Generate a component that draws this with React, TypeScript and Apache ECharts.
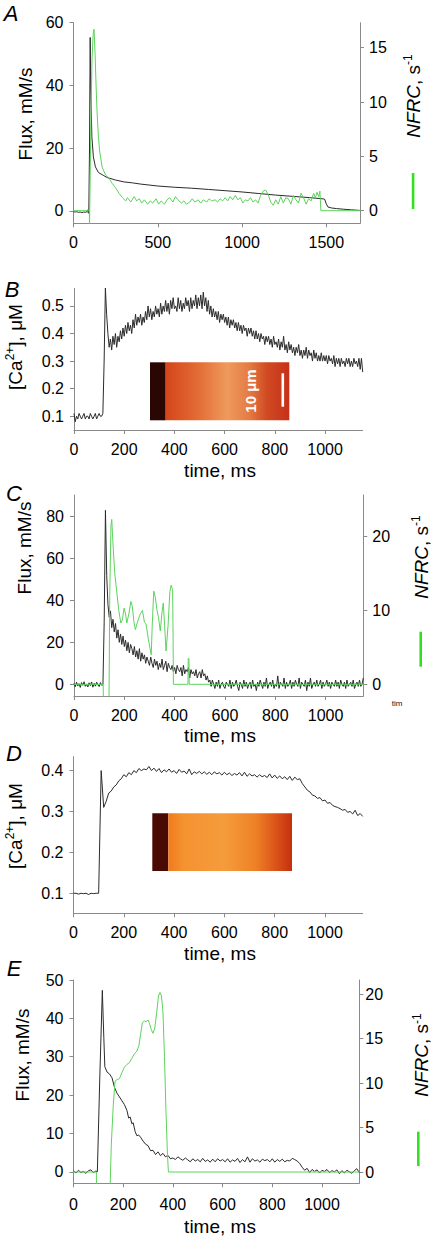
import { useEffect, useRef } from "react";
import * as echarts from "echarts";

// ---------- Panel A (0-1700 ms) ----------
const aTimeTicks = [0, 500, 1000, 1500];
const aFluxTicks = [0, 20, 40, 60];
const aNfrcTicks = [0, 5, 10, 15];
const aFlux: number[][] = [
  [0, -0.3], [10, -0.4], [20, -0.3], [30, -0.5], [40, -0.4], [50, -0.6], [60, -0.4], [70, -0.5], [80, -0.3],
  [85, 0.3], [88, -0.8], [91, 0.5], [95, 20], [99, 55.3], [103, 38], [109, 23.6], [118, 17.2], [130, 14],
  [148, 12.2], [180, 11.2], [200, 10.6], [250, 9.8], [300, 9.2], [350, 8.9], [400, 8.5], [500, 7.9],
  [600, 7.5], [700, 7.2], [800, 6.8], [900, 6.4], [1000, 6.0], [1100, 5.5], [1200, 5.0], [1300, 4.6],
  [1400, 4.2], [1480, 3.8], [1490, 3.7], [1500, 2.2], [1510, 1.2], [1530, 0.9], [1560, 0.7], [1600, 0.5],
  [1650, 0.3], [1700, 0.1],
];
const aNfrc: number[][] = [
  [0, 0], [94, 0], [95, -1.5], [98, -1.5], [103, 8], [110, 14], [117, 16.3], [122, 16.7], [128, 14.5],
  [134, 11.5], [140, 9], [148, 6.8], [155, 5.5], [170, 4], [190, 3.3], [210, 3.0], [230, 2.5], [250, 2.1],
  [270, 1.6], [290, 1.2], [310, 0.9], [320, 1.2], [340, 0.8], [360, 1.3], [375, 0.9], [390, 1.1], [405, 0.7],
  [420, 1.0], [440, 0.6], [455, 0.9], [470, 0.7], [490, 1.1], [505, 0.6], [520, 0.9], [540, 0.6], [555, 1.0],
  [570, 1.2], [590, 0.8], [605, 1.3], [620, 1.0], [640, 0.7], [655, 0.9], [670, 0.6], [690, 0.8], [705, 1.1],
  [720, 0.8], [740, 1.0], [755, 0.7], [770, 1.0], [790, 0.8], [805, 1.1], [820, 0.9], [840, 1.0], [855, 0.8],
  [870, 1.1], [885, 0.9], [900, 1.2], [915, 0.9], [930, 1.3], [945, 1.0], [960, 1.4], [975, 1.0], [990, 1.2],
  [1005, 0.7], [1020, 1.0], [1035, 0.9], [1050, 1.2], [1065, 0.8], [1080, 1.0], [1095, 0.7], [1110, 1.4],
  [1125, 1.8], [1140, 1.9], [1155, 1.5], [1170, 0.8], [1185, 0.5], [1200, 1.0], [1215, 0.6], [1230, 1.3],
  [1245, 0.7], [1260, 1.2], [1275, 1.1], [1290, 0.6], [1305, 1.4], [1320, 1.0], [1335, 0.7], [1350, 1.6],
  [1365, 1.2], [1380, 0.6], [1395, 1.1], [1410, 0.9], [1425, 1.6], [1435, 1.2], [1445, 1.7], [1455, 1.3],
  [1462, 1.8], [1466, 1.8], [1468, 0], [1700, 0],
];

// ---------- shared time ticks for B-E (0-1150 ms) ----------
const msTicks = [0, 200, 400, 600, 800, 1000];

// ---------- Panel B ([Ca2+], sampled every 5 ms) ----------
const caTicks = [0.1, 0.2, 0.3, 0.4, 0.5];
const bStep = 5;
const bCa: number[] = [
  0.11, 0.08, 0.1, 0.09, 0.11, 0.1, 0.09, 0.1, 0.11, 0.09, 0.1, 0.1, 0.09, 0.11, 0.1, 0.09, 0.1, 0.11, 0.09, 0.1,
  0.11, 0.1, 0.1, 0.11, 0.3, 0.565, 0.47, 0.4, 0.35, 0.38, 0.34, 0.39, 0.36, 0.4, 0.35, 0.39, 0.37, 0.41, 0.38, 0.42,
  0.39, 0.43, 0.4, 0.44, 0.41, 0.43, 0.4, 0.45, 0.42, 0.47, 0.43, 0.46, 0.44, 0.47, 0.43, 0.46, 0.44, 0.48, 0.45, 0.5,
  0.46, 0.49, 0.45, 0.48, 0.46, 0.5, 0.47, 0.49, 0.46, 0.51, 0.47, 0.5, 0.48, 0.52, 0.48, 0.51, 0.47, 0.52, 0.49, 0.53,
  0.49, 0.5, 0.48, 0.53, 0.49, 0.52, 0.48, 0.51, 0.49, 0.53, 0.5, 0.52, 0.48, 0.53, 0.49, 0.52, 0.5, 0.54, 0.49, 0.53,
  0.5, 0.54, 0.49, 0.55, 0.5, 0.53, 0.48, 0.52, 0.47, 0.5, 0.46, 0.49, 0.46, 0.48, 0.45, 0.48, 0.44, 0.47, 0.45, 0.47,
  0.44, 0.46, 0.43, 0.46, 0.42, 0.45, 0.43, 0.45, 0.42, 0.44, 0.41, 0.44, 0.41, 0.43, 0.4, 0.43, 0.41, 0.42, 0.39, 0.42,
  0.4, 0.42, 0.39, 0.41, 0.38, 0.41, 0.38, 0.4, 0.37, 0.4, 0.38, 0.39, 0.36, 0.39, 0.37, 0.39, 0.36, 0.38, 0.35, 0.39,
  0.36, 0.37, 0.35, 0.38, 0.34, 0.37, 0.35, 0.39, 0.34, 0.36, 0.33, 0.37, 0.34, 0.36, 0.33, 0.35, 0.32, 0.35, 0.33, 0.36,
  0.32, 0.34, 0.31, 0.34, 0.32, 0.35, 0.31, 0.34, 0.32, 0.33, 0.3, 0.34, 0.31, 0.33, 0.3, 0.32, 0.3, 0.33, 0.3, 0.32,
  0.3, 0.32, 0.29, 0.32, 0.3, 0.31, 0.29, 0.32, 0.28, 0.31, 0.29, 0.31, 0.28, 0.31, 0.29, 0.3, 0.28, 0.31, 0.29, 0.31,
  0.28, 0.3, 0.28, 0.31, 0.29, 0.3, 0.28, 0.31, 0.27, 0.31, 0.26,
];

// ---------- Panel C (flux every 5 ms, NFRC as points) ----------
const cFluxTicks = [0, 20, 40, 60, 80];
const cNfrcTicks = [0, 10, 20];
const cStep = 5;
const cFlux: number[] = [
  0.5, -1.2, 1, -0.8, 0.3, -1.5, 0.8, -0.5, 1.2, -1, 0, -1.3, 0.7, -0.6, 1.1, -1.4, 0.4, -0.9, 1, -0.3,
  -1.1, 0.8, -0.5, -0.2, 30, 83, 52, 38, 32, 35, 27, 31, 25, 29, 22, 26, 20, 24, 19, 23,
  18, 21, 16, 20, 15, 19, 17, 14, 18, 13, 16, 12, 17, 11, 15, 12, 14, 10, 13, 11,
  9, 13, 10, 8, 12, 9, 11, 7, 10, 8, 12, 7, 9, 11, 6, 10, 8, 7, 9, 6,
  8, 5, 9, 7, 6, 8, 4, 9, 5, 7, 6, 8, 3, 7, 5, 6, 4, 7, 3, 5,
  6, 3, 7, 4, 5, 2, 4, 1, 2, -1, 2, 0, -2, 1, -1, 2, -2, 0, 1, -1,
  -2, 1, 0, -1, 2, -2, 1, -1, 0, 2, -1, -3, 1, 0, -2, 2, -1, 1, -2, 0,
  1, -2, 2, -1, 0, -3, 1, -1, 2, 0, -2, 1, -1, 3, -2, 0, 1, -1, 2, -2,
  0, -1, 4, -2, 1, 0, -1, 3, -2, 1, -1, 0, 2, -2, 1, -1, 2, 0, -1, 3,
  -2, 1, 0, -1, 2, -3, 1, -1, 3, -2, 0, 1, -1, 2, -1, 0, 2, -2, 1, -1,
  0, 2, -1, 1, -2, 1, 0, -1, 2, -1, 1, -2, 2, 0, -1, 1, -2, 2, -1, 0,
  1, -1, 2, -2, 0, 1, -1, 2, -1, 0, 3,
];
const cNfrc: number[][] = [
  [0, 0], [116, 0], [117, -3], [139, -3], [142, 12], [147, 21.5], [150, 22.3], [155, 19], [162, 15],
  [170, 12.5], [178, 10], [186, 8.3], [192, 8.7], [199, 10.3], [205, 9.5], [210, 8.3], [218, 9.5],
  [226, 11.2], [232, 10.5], [238, 8.5], [244, 7.4], [252, 8.4], [262, 9.4], [272, 10], [280, 8.4],
  [286, 8.2], [296, 6], [307, 4], [311, 8], [317, 12.6], [323, 11.8], [330, 10], [336, 9], [343, 7.2],
  [350, 9.8], [355, 11], [360, 8], [366, 4.5], [374, 8], [381, 12.5], [386, 13.4], [392, 12.8], [394, 6],
  [395, 0], [453, 0], [454, 3.5], [457, 3.5], [458, 0], [1150, 0],
];

// ---------- Panel D ([Ca2+] every 10 ms) ----------
const dCaTicks = [0.1, 0.2, 0.3, 0.4];
const dStep = 10;
const dCa: number[] = [
  0.1, 0.1, 0.098, 0.1, 0.099, 0.1, 0.097, 0.1, 0.099, 0.1,
  0.1, 0.4, 0.31, 0.325, 0.345, 0.35, 0.36, 0.365, 0.375, 0.38,
  0.39, 0.385, 0.395, 0.39, 0.4, 0.395, 0.405, 0.4, 0.404, 0.402,
  0.41, 0.4, 0.406, 0.398, 0.405, 0.395, 0.402, 0.397, 0.404, 0.396,
  0.4, 0.393, 0.403, 0.396, 0.399, 0.392, 0.404, 0.39, 0.397, 0.393,
  0.398, 0.392, 0.397, 0.391, 0.396, 0.39, 0.397, 0.392, 0.395, 0.389,
  0.396, 0.39, 0.394, 0.388, 0.393, 0.389, 0.395, 0.387, 0.396, 0.386,
  0.392, 0.387, 0.39, 0.384, 0.39, 0.385, 0.388, 0.383, 0.392, 0.382,
  0.389, 0.381, 0.387, 0.38, 0.385, 0.378, 0.386, 0.376, 0.384, 0.378,
  0.38, 0.368, 0.36, 0.352, 0.348, 0.34, 0.338, 0.332, 0.334, 0.326,
  0.328, 0.32, 0.322, 0.315, 0.312, 0.31, 0.307, 0.303, 0.305, 0.298,
  0.3, 0.294, 0.303, 0.29, 0.295, 0.288,
];

// ---------- Panel E ----------
const eFluxTicks = [0, 10, 20, 30, 40, 50];
const eNfrcTicks = [0, 5, 10, 15, 20];
const eFlux: number[][] = [
  [0, 0.2], [10, -0.3], [20, 0.4], [30, -0.2], [40, 0.1], [50, -0.4], [60, 0.3], [70, 0.5], [80, -0.2],
  [90, 0.2], [96, 0], [106, 25], [116, 47.3], [122, 35], [126, 27.4], [135, 26], [145, 25.5], [155, 24.5],
  [165, 22], [175, 20.5], [185, 19.5], [195, 18.5], [205, 17.5], [215, 16], [222, 14], [228, 14.3],
  [235, 12.5], [240, 12.8], [248, 10.5], [255, 9.4], [262, 9.6], [270, 9], [280, 8], [290, 7.2], [300, 6.8],
  [310, 5.5], [320, 5.6], [330, 4.5], [340, 5.2], [350, 4.2], [360, 4.8], [370, 3.9], [380, 4.3], [390, 3.4],
  [400, 3.6], [410, 3.2], [420, 3.9], [430, 3.4], [440, 3], [450, 3.6], [460, 3.1], [470, 2.6], [480, 3.4],
  [490, 2.8], [500, 3.2], [510, 2.6], [520, 3.5], [530, 2.7], [540, 3.1], [550, 2.5], [560, 3.3], [570, 2.6],
  [580, 3.4], [590, 2.8], [600, 3.2], [610, 2.6], [620, 3.4], [630, 2.5], [640, 3.1], [650, 2.7], [660, 3.5],
  [670, 2.4], [680, 3.2], [690, 2.6], [700, 3.9], [710, 2.5], [720, 3.4], [730, 2.8], [740, 3.1], [750, 2.5],
  [760, 3.3], [770, 2.9], [780, 3.2], [790, 2.6], [800, 3.4], [810, 2.5], [820, 3.2], [830, 2.7], [840, 3.3],
  [850, 2.6], [860, 3], [870, 2.8], [880, 3.5], [890, 3.2], [900, 2.8], [910, 2.2], [920, 1.2], [930, 0.4],
  [940, 0.9], [950, -0.2], [960, 0.6], [970, 0.1], [980, 0.5], [990, -0.3], [1000, 0.4], [1010, 0.1],
  [1020, 0.6], [1030, -0.2], [1040, 0.3], [1050, 0], [1060, 0.5], [1070, -0.5], [1080, 0.3], [1090, -0.3],
  [1100, 0.4], [1110, 0], [1120, -0.4], [1130, 0.3], [1140, 0.8], [1150, -0.2],
];
const eNfrc: number[][] = [
  [0, 0], [92, 0], [93, -3], [146, -3], [152, 3], [160, 7.5], [167, 10.2], [175, 10.4], [185, 10.5],
  [195, 11.2], [205, 11.8], [215, 12.1], [225, 12.3], [235, 12.8], [245, 13.3], [255, 13.6], [263, 14.2],
  [270, 15.5], [277, 16.8], [285, 17], [292, 16.9], [300, 17.1], [306, 16.7], [313, 16], [320, 15.6],
  [327, 16.2], [335, 18], [342, 19.8], [348, 20.2], [354, 19.8], [360, 18], [366, 13], [372, 7], [378, 2],
  [382, 0], [1150, 0],
];

const FONT = "'Liberation Sans', Arial, Helvetica, sans-serif";
const AXIS = "#8a8a8a";
const BLACK = "#2b2b2b";
const GREEN = "#5cd35c";
const BAR = "#33e020";
const TICK = 16;
const TITLE = 19;
const plain = (v: number) => String(v);

function xAx(gridIndex: number, max: number, ticks: number[], margin: number) {
  return {
    type: "value", gridIndex, min: 0, max,
    axisLine: { show: true, onZero: false, lineStyle: { color: AXIS, width: 1 } },
    axisTick: { show: true, length: 4, customValues: ticks, lineStyle: { color: AXIS } },
    axisLabel: { customValues: ticks, margin, color: "#000", fontSize: TICK, fontFamily: FONT, formatter: plain },
    splitLine: { show: false },
  };
}
function yAx(gridIndex: number, min: number, max: number, ticks: number[], position: string, margin: number) {
  return {
    type: "value", gridIndex, min, max, position,
    axisLine: { show: true, onZero: false, lineStyle: { color: AXIS, width: 1 } },
    axisTick: { show: true, length: 4, customValues: ticks, lineStyle: { color: AXIS } },
    axisLabel: { customValues: ticks, margin, color: "#000", fontSize: TICK, fontFamily: FONT, formatter: plain },
    splitLine: { show: false },
  };
}
function line(data: number[][], xi: number, yi: number, color: string) {
  return {
    type: "line", data, xAxisIndex: xi, yAxisIndex: yi, showSymbol: false, symbol: "none",
    lineStyle: { color, width: 1 }, clip: true, silent: true,
  };
}
const stepped = (vals: number[], step: number) => vals.map((v, i) => [i * step, v]);

function txt(x: number, y: number, text: string, extra: any = {}, rot = 0) {
  return {
    type: "text", x, y, rotation: rot, silent: true,
    style: { text, fill: "#000", fontSize: TITLE, fontFamily: FONT, align: "center", verticalAlign: "middle", ...extra },
  };
}
const nfrcRich = {
  i: { fontStyle: "italic", fontSize: TITLE, fontFamily: FONT, fill: "#000", lineHeight: 22 },
  n: { fontSize: TITLE, fontFamily: FONT, fill: "#000", lineHeight: 22 },
  s: { fontSize: 12, fontFamily: FONT, fill: "#000", verticalAlign: "top", lineHeight: 22 },
};
const caRich = {
  n: { fontSize: TITLE, fontFamily: FONT, fill: "#000", lineHeight: 22 },
  s: { fontSize: 12, fontFamily: FONT, fill: "#000", verticalAlign: "top", lineHeight: 22 },
};
const letter = (x: number, y: number, t: string) =>
  txt(x, y, t, { fontSize: 22, fontStyle: "italic" });
const R = Math.PI / 2;

function inset(x: number, y: number, w: number, h: number, dark: number, darkColor: string, stops: any[]) {
  return [
    { type: "rect", silent: true, shape: { x, y, width: dark, height: h }, style: { fill: darkColor } },
    {
      type: "rect", silent: true, shape: { x: x + dark, y, width: w - dark, height: h },
      style: { fill: { type: "linear", x: 0, y: 0, x2: 1, y2: 0, colorStops: stops } },
    },
  ];
}

export default function App() {
  const ref = useRef<HTMLDivElement>(null);
  useEffect(() => {
    if (!ref.current) return;
    const chart = echarts.init(ref.current, undefined, { renderer: "svg" });
    const option: any = {
      animation: false,
      backgroundColor: "#fff",
      grid: [
        { left: 73.5, top: 22.7, width: 286.5, height: 200.6 },
        { left: 74, top: 288.3, width: 288.7, height: 141.7 },
        { left: 74, top: 495, width: 289.3, height: 201 },
        { left: 73.5, top: 756.7, width: 289.2, height: 156.6 },
        { left: 73.5, top: 980, width: 285.8, height: 203.3 },
      ],
      xAxis: [
        xAx(0, 1700, aTimeTicks, 11),
        xAx(1, 1150, msTicks, 11),
        xAx(2, 1150, msTicks, 11),
        xAx(3, 1150, msTicks, 11),
        xAx(4, 1150, msTicks, 13),
      ],
      yAxis: [
        yAx(0, -4, 60, aFluxTicks, "left", 10),
        yAx(0, -1.16, 17.3, aNfrcTicks, "right", 9),
        yAx(1, 0.05, 0.564, caTicks, "left", 10),
        yAx(2, -5.6, 90.3, cFluxTicks, "left", 10),
        yAx(2, -1.58, 25.6, cNfrcTicks, "right", 9),
        yAx(3, 0.051, 0.434, dCaTicks, "left", 10),
        yAx(4, -3.0, 50, eFluxTicks, "left", 10),
        yAx(4, -1.27, 21.6, eNfrcTicks, "right", 6),
      ],
      series: [
        line(aFlux, 0, 0, BLACK),
        line(aNfrc, 0, 1, GREEN),
        line(stepped(bCa, bStep), 1, 2, BLACK),
        line(stepped(cFlux, cStep), 2, 3, BLACK),
        line(cNfrc, 2, 4, GREEN),
        line(stepped(dCa, dStep), 3, 5, BLACK),
        line(eFlux, 4, 6, BLACK),
        line(eNfrc, 4, 7, GREEN),
      ],
      graphic: [
        // panel letters
        letter(11, 13, "A"), letter(12, 289, "B"), letter(14, 493, "C"), letter(14, 753, "D"), letter(14, 968, "E"),
        // A titles
        txt(25, 114, "Flux, mM/s", {}, R),
        txt(413, 96, "{i|NFRC}{n|, s}{s|-1}", { rich: nfrcRich }, R),
        { type: "rect", silent: true, shape: { x: 411.8, y: 173, width: 2.6, height: 36 }, style: { fill: BAR } },
        // B
        txt(15, 347, "{n|[Ca}{s|2+}{n|], μM}", { rich: caRich }, R),
        txt(220, 470, "time, ms"),
        ...inset(150, 362.3, 139.3, 58, 15.7, "#2b0703", [
          { offset: 0, color: "#d4461a" }, { offset: 0.25, color: "#e26a34" }, { offset: 0.5, color: "#ef9a5c" },
          { offset: 0.68, color: "#e47a44" }, { offset: 0.82, color: "#d04a22" }, { offset: 1, color: "#c6301a" },
        ]),
        txt(250, 391, "10 μm", { fill: "#fff", fontSize: 15, fontWeight: "bold" }, R),
        { type: "rect", silent: true, shape: { x: 281.5, y: 373.3, width: 2.6, height: 33.4 }, style: { fill: "#fff" } },
        // C
        txt(24, 548, "Flux, mM/s", {}, R),
        txt(421, 557, "{i|NFRC}{n|, s}{s|-1}", { rich: nfrcRich }, R),
        { type: "rect", silent: true, shape: { x: 419.4, y: 631.7, width: 2.6, height: 35 }, style: { fill: BAR } },
        txt(397, 703, "tim", { fontSize: 8, fill: "#111" }),
        txt(220, 735, "time, ms"),
        // D
        txt(15, 826, "{n|[Ca}{s|2+}{n|], μM}", { rich: caRich }, R),
        ...inset(152.3, 813.3, 139.7, 57.7, 16, "#4a0a04", [
          { offset: 0, color: "#f07a1e" }, { offset: 0.12, color: "#f59230" }, { offset: 0.45, color: "#f59c3c" },
          { offset: 0.7, color: "#ee8226" }, { offset: 0.86, color: "#dc561a" }, { offset: 1, color: "#c4300e" },
        ]),
        txt(220, 953, "time, ms"),
        // E
        txt(22.5, 1055, "Flux, mM/s", {}, R),
        txt(421.7, 1055, "{i|NFRC}{n|, s}{s|-1}", { rich: nfrcRich }, R),
        { type: "rect", silent: true, shape: { x: 417, y: 1131.7, width: 2.6, height: 34.3 }, style: { fill: BAR } },
        txt(220, 1226, "time, ms"),
      ],
    };
    chart.setOption(option);
    return () => chart.dispose();
  }, []);
  return (
    <div
      ref={ref}
      style={{ position: "absolute", left: 0, top: 0, width: 432, height: 1236, background: "#fff" }}
    />
  );
}
